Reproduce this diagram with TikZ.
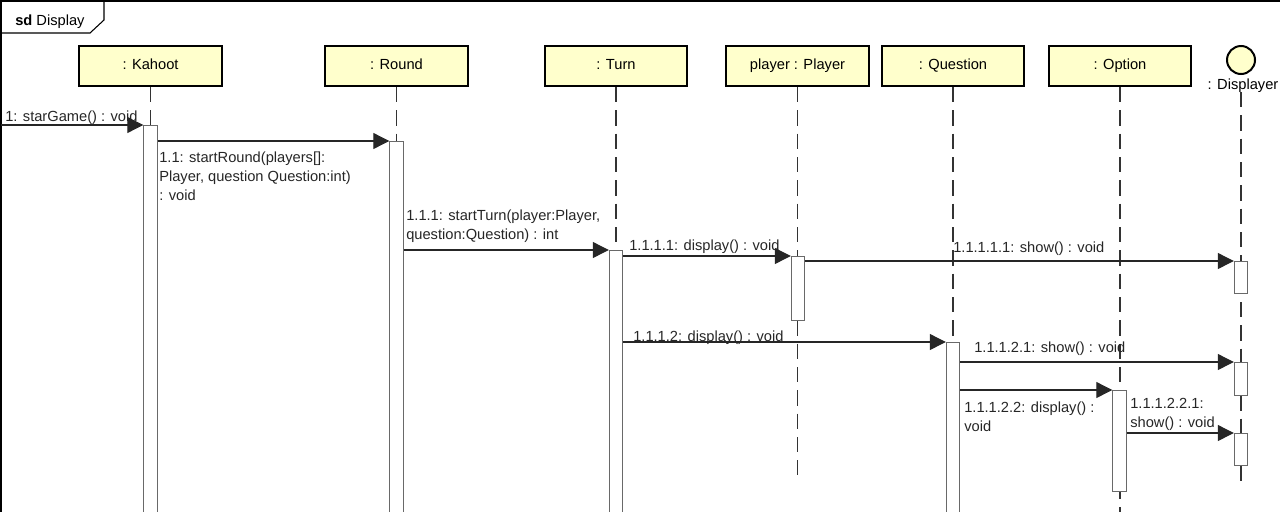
\documentclass[tikz,border=0pt]{standalone}
\usepackage{fontspec}
\setmainfont{Liberation Sans}
\usepackage{xcolor}
\usetikzlibrary{shapes,arrows.meta}
\definecolor{lifeyellow}{RGB}{255,255,204}
\definecolor{actgray}{RGB}{105,105,105}

\begin{document}
\begin{tikzpicture}[x=0.75pt,y=0.75pt,yscale=-1,xscale=1,
        font=\fontsize{11}{14}\selectfont,
        lifebox/.style={draw, line width=1.5pt, fill=lifeyellow, minimum width=107pt, minimum height=30pt, inner sep=0pt, text depth=3pt},
        lifeline/.style={draw=black!80, line width=0.9pt, dash pattern=on 11.5pt off 6pt},
        actbox/.style={draw=actgray, line width=0.8pt, fill=white, minimum width=10pt, inner sep=0pt, anchor=north},
        msg/.style={draw=black!85, line width=0.8pt, -{Triangle[length=12pt,width=12pt]}},
        lbl/.style={anchor=north west, inner sep=0pt, align=left, text=black!85}]
        \clip (0,0) rectangle (1280,511);

        \draw [line width=0.8pt] (1,530) -- (1,1) -- (1290,1);
        \draw [line width=0.8pt] (1,33) -- (90,33) -- (104,20) -- (104,1);
        \node [anchor=north west][inner sep=0pt] (sdTitle) at (15,15) {\textbf{sd} Display};

        \node [lifebox] (kahoot) at (150.5,66) {: Kahoot};
        \node [lifebox] (round) at (396.5,66) {: Round};
        \node [lifebox] (turn) at (616,66) {: Turn};
        \node [lifebox] (player) at (797.5,66) {player : Player};
        \node [lifebox] (question) at (953,66) {: Question};
        \node [lifebox] (option) at (1120,66) {: Option};
        \node [circle, draw, line width=1.5pt, fill=lifeyellow, minimum size=21pt, inner sep=0pt] (displayer) at (1241,60) {};
        \node [anchor=north][inner sep=0pt] (displayerLbl) at (1243,79) {: Displayer};

        \coordinate (kahootEnd) at (150.5,530);
        \coordinate (roundEnd) at (396.5,530);
        \coordinate (turnEnd) at (616,530);
        \coordinate (playerEnd) at (797.5,475);
        \coordinate (questionEnd) at (953,530);
        \coordinate (optionEnd) at (1120,530);
        \coordinate (displayerEnd) at (1241,482);
        \draw [lifeline] (kahoot.south) -- (kahootEnd);
        \draw [lifeline] (round.south) -- (roundEnd);
        \draw [lifeline] (turn.south) -- (turnEnd);
        \draw [lifeline] (player.south) -- (playerEnd);
        \draw [lifeline] (question.south) -- (questionEnd);
        \draw [lifeline] (option.south) -- (optionEnd);
        \draw [lifeline] (displayer.south |- 0,92) -- (displayerEnd);

        \node [actbox, minimum height=303.75pt] (kahootAct) at (150.5,125) {};
        \node [actbox, minimum height=291.75pt] (roundAct) at (396.5,141) {};
        \node [actbox, minimum height=210pt] (turnAct) at (616,250) {};
        \node [actbox, minimum height=48pt] (playerAct) at (798,256) {};
        \node [actbox, minimum height=24pt] (dispActA) at (1241,261) {};
        \node [actbox, minimum height=141pt] (questionAct) at (953,342) {};
        \node [actbox, minimum height=24.75pt] (dispActB) at (1241,362) {};
        \node [actbox, minimum height=75.75pt] (optionAct) at (1119.5,390) {};
        \node [actbox, minimum height=24pt] (dispActC) at (1241,433) {};

        \coordinate (gate) at (1,125);
        \draw [msg] (gate) -- (kahootAct.north west);
        \draw [msg] (kahootAct.east |- roundAct.north) -- (roundAct.north west);
        \draw [msg] (roundAct.east |- turnAct.north) -- (turnAct.north west);
        \draw [msg] (turnAct.east |- playerAct.north) -- (playerAct.north west);
        \draw [msg] (playerAct.east |- dispActA.north) -- (dispActA.north west);
        \draw [msg] (turnAct.east |- questionAct.north) -- (questionAct.north west);
        \draw [msg] (questionAct.east |- dispActB.north) -- (dispActB.north west);
        \draw [msg] (questionAct.east |- optionAct.north) -- (optionAct.north west);
        \draw [msg] (optionAct.east |- dispActC.north) -- (dispActC.north west);

        \node [lbl] (lblStart) at (5,111) {1: starGame() : void};
        \node [lbl] (lblRound) at (159,152) {1.1: startRound(players[]:\\Player, question Question:int)\\: void};
        \node [lbl] (lblTurn) at (406,210) {1.1.1: startTurn(player:Player,\\question:Question) : int};
        \node [lbl] (lblDispPlayer) at (629,240) {1.1.1.1: display() : void};
        \node [lbl] (lblShowA) at (953,242) {1.1.1.1.1: show() : void};
        \node [lbl] (lblDispQuestion) at (633,331) {1.1.1.2: display() : void};
        \node [lbl] (lblShowB) at (974,342) {1.1.1.2.1: show() : void};
        \node [lbl] (lblDispOption) at (964,402) {1.1.1.2.2: display() :\\void};
        \node [lbl] (lblShowC) at (1130,398) {1.1.1.2.2.1:\\show() : void};
    \end{tikzpicture}
\end{document}
